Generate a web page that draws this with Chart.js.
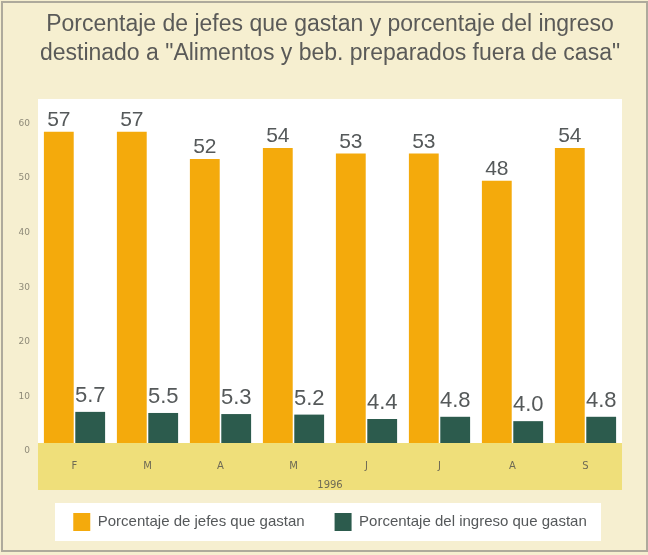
<!DOCTYPE html>
<html>
<head>
<meta charset="utf-8">
<script src="https://cdn.jsdelivr.net/npm/chart.js@4/dist/chart.umd.min.js"></script>
<style>
  html, body { margin: 0; padding: 0; background: #f6efd0; }
  #wrap { width: 648px; height: 555px; }
</style>
</head>
<body>
<div id="wrap"><canvas id="c" width="648" height="555"></canvas></div>
<script>
// ---- data ----
const categories = ['F', 'M', 'A', 'M', 'J', 'J', 'A', 'S'];
const jefesQueGastan = [57, 57, 52, 54, 53, 53, 48, 54];
const ingresoQueGastan = [5.7, 5.5, 5.3, 5.2, 4.4, 4.8, 4.0, 4.8];
const jefesLabels = ['57', '57', '52', '54', '53', '53', '48', '54'];
const ingresoLabels = ['5.7', '5.5', '5.3', '5.2', '4.4', '4.8', '4.0', '4.8'];
const yearLabel = '1996';
const seriesNames = ['Porcentaje de jefes que gastan', 'Porcentaje del ingreso que gastan'];
const titleLines = ['Porcentaje de jefes que gastan y porcentaje del ingreso',
                    'destinado a "Alimentos y beb. preparados fuera de casa"'];

const SANS = '"Liberation Sans", Arial, sans-serif';
const BAND_HEIGHT = 47;

const backgroundPlugin = {
  id: 'bg',
  beforeDraw(chart) {
    const ctx = chart.ctx;
    const a = chart.chartArea;
    ctx.save();
    ctx.fillStyle = '#f6efd0';
    ctx.fillRect(0, 0, chart.width, chart.height);
    // outer frame
    ctx.strokeStyle = '#aeaa9c';
    ctx.lineWidth = 2;
    ctx.strokeRect(2, 2, chart.width - 3, chart.height - 6);
    // plot panel
    ctx.fillStyle = '#ffffff';
    ctx.fillRect(a.left, a.top, a.right - a.left, a.bottom - a.top);
    // x axis band
    ctx.fillStyle = '#efdf7a';
    ctx.fillRect(a.left, a.bottom, a.right - a.left, BAND_HEIGHT);
    // legend box
    const lg = chart.legend;
    const hb = lg.legendHitBoxes && lg.legendHitBoxes[0];
    const cy = hb ? hb.top + hb.height / 2 : lg.top + lg.height / 2;
    ctx.fillStyle = '#ffffff';
    ctx.fillRect(55, cy - 19, 546, 38);
    ctx.restore();
  }
};

const valueLabelPlugin = {
  id: 'valueLabels',
  afterDatasetsDraw(chart) {
    const ctx = chart.ctx;
    ctx.save();
    ctx.textAlign = 'center';
    ctx.textBaseline = 'alphabetic';
    ctx.fillStyle = '#55595a';
    const sets = [
      { idx: 0, labels: jefesLabels, font: '21px ' + SANS, gap: 6 },
      { idx: 1, labels: ingresoLabels, font: '22px ' + SANS, gap: 10 }
    ];
    sets.forEach(s => {
      const meta = chart.getDatasetMeta(s.idx);
      ctx.font = s.font;
      meta.data.forEach((bar, i) => {
        ctx.fillText(s.labels[i], bar.x, bar.y - s.gap);
      });
    });
    ctx.restore();
  }
};

new Chart(document.getElementById('c'), {
  type: 'bar',
  data: {
    labels: categories,
    datasets: [
      {
        label: seriesNames[0],
        data: jefesQueGastan,
        backgroundColor: '#f4aa0c',
        borderWidth: 0,
        categoryPercentage: 0.86,
        barPercentage: 0.95
      },
      {
        label: seriesNames[1],
        data: ingresoQueGastan,
        backgroundColor: '#2c5b4d',
        borderWidth: 0,
        categoryPercentage: 0.86,
        barPercentage: 0.95
      }
    ]
  },
  options: {
    responsive: false,
    animation: false,
    layout: { padding: { left: 12, right: 0, top: 0, bottom: 14 } },
    plugins: {
      title: {
        display: true,
        text: titleLines,
        color: '#5a5a58',
        font: { family: SANS, size: 23, weight: 'normal', lineHeight: 1.26 },
        padding: { top: 10, bottom: 31 }
      },
      legend: {
        display: true,
        position: 'bottom',
        labels: {
          boxWidth: 17,
          boxHeight: 18,
          padding: 30,
          color: '#55585a',
          font: { family: SANS, size: 15 }
        }
      },
      tooltip: { enabled: false }
    },
    scales: {
      x: {
        grid: { display: false, drawTicks: false },
        border: { display: false },
        ticks: {
          color: '#6e6a55',
          font: { family: 'DejaVu Sans', size: 10 },
          padding: 17
        },
        title: {
          display: true,
          text: yearLabel,
          color: '#6e6a55',
          font: { family: 'DejaVu Sans', size: 10 },
          padding: { top: 4, bottom: -8 }
        },
        afterFit(scale) { scale.height = 40; }
      },
      y: {
        min: 0,
        max: 63,
        grid: { display: false, drawTicks: false },
        border: { display: false },
        ticks: {
          stepSize: 10,
          includeBounds: false,
          color: '#8e8a78',
          font: { family: 'DejaVu Sans', size: 9 },
          padding: 8,
          labelOffset: 8
        },
        afterFit(scale) { scale.width = 26; }
      },
      yRight: {
        position: 'right',
        display: true,
        min: 0,
        max: 63,
        grid: { display: false, drawTicks: false },
        border: { display: false },
        ticks: { display: false },
        afterFit(scale) { scale.width = 26; }
      }
    }
  },
  plugins: [backgroundPlugin, valueLabelPlugin]
});
</script>
</body>
</html>
